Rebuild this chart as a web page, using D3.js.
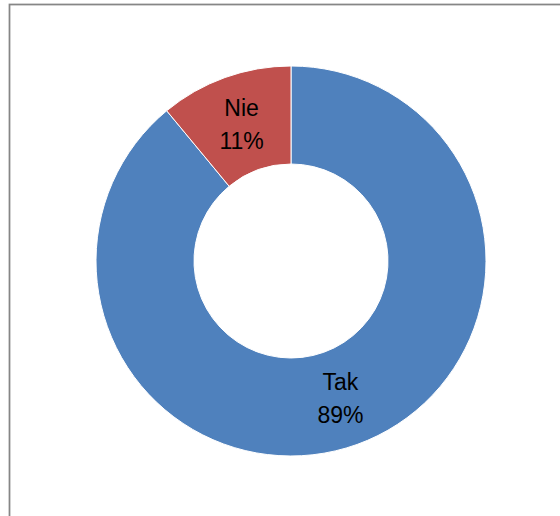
<!DOCTYPE html>
<html>
<head>
<meta charset="utf-8">
<script src="https://cdn.jsdelivr.net/npm/d3@7"></script>
<style>
  html, body { margin: 0; padding: 0; background: #fff; }
  svg { display: block; }
</style>
</head>
<body>
<div id="chart"></div>
<script>
const labels = ["Tak", "Nie"];
const values = [89, 11];
const colors = ["#4F81BD", "#C0504D"];

const W = 560, H = 516;
const cx = 291, cy = 261;
const outerR = 195, innerR = 97;

const svg = d3.select("#chart").append("svg")
  .attr("width", W)
  .attr("height", H);

// chart frame (extends past the window on the right and bottom)
svg.append("rect")
  .attr("x", 9.5).attr("y", 4.5)
  .attr("width", 600).attr("height", 600)
  .attr("fill", "#fff")
  .attr("stroke", "#868686")
  .attr("stroke-width", 1.75);

const pie = d3.pie().sort(null).value(d => d);
const arc = d3.arc().innerRadius(innerR).outerRadius(outerR);

const g = svg.append("g").attr("transform", `translate(${cx},${cy})`);

const slices = g.selectAll("g.slice")
  .data(pie(values))
  .enter().append("g")
  .attr("class", "slice");

slices.append("path")
  .attr("d", arc)
  .attr("fill", (d, i) => colors[i])
  .attr("stroke", "#fff")
  .attr("stroke-width", 1);

const total = d3.sum(values);
slices.append("text")
  .attr("transform", d => `translate(${arc.centroid(d)})`)
  .attr("text-anchor", "middle")
  .attr("font-family", "'Liberation Sans', Arial, sans-serif")
  .attr("font-size", 23)
  .attr("fill", "#000")
  .each(function(d, i) {
    const t = d3.select(this);
    t.append("tspan").attr("x", 0).attr("y", -8).text(labels[i]);
    t.append("tspan").attr("x", 0).attr("y", 25)
      .text(Math.round(values[i] / total * 100) + "%");
  });
</script>
</body>
</html>
